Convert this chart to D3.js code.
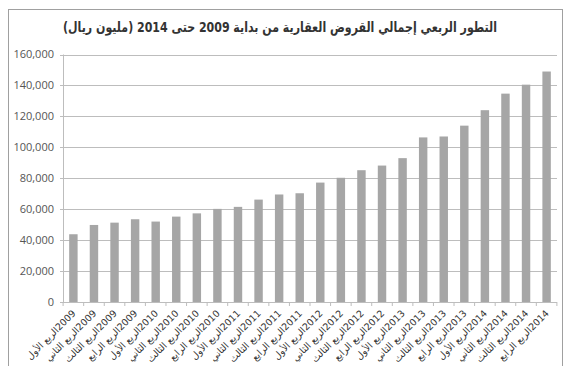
<!DOCTYPE html>
<html>
<head>
<meta charset="utf-8">
<script src="https://cdn.jsdelivr.net/npm/d3@7"></script>
<style>
  html, body { margin: 0; padding: 0; background: #fff; }
  svg { display: block; }
</style>
</head>
<body>
<div id="chart"></div>
<script>
// chart data (million riyals, quarterly)
const quarters = ['الربع الأول', 'الربع الثاني', 'الربع الثالث', 'الربع الرابع'];
const years = [2009, 2010, 2011, 2012, 2013, 2014];
const categories = [];
years.forEach(y => quarters.forEach(q => categories.push(q + ' ' + y)));
const loans = [
  43800, 49800, 51300, 53500,
  52000, 55200, 57300, 60200,
  61500, 66200, 69500, 70300,
  77200, 80300, 85200, 88200,
  93000, 106400, 107000, 114000,
  124000, 134700, 140500, 149000
];
const yTicks = [0, 20000, 40000, 60000, 80000, 100000, 120000, 140000, 160000];
const title = 'التطور الربعي إجمالي القروض العقارية من بداية 2009 حتى 2014 (مليون ريال)';

const width = 575, height = 366;
const margin = { top: 54.5, right: 18, bottom: 64, left: 63 };

const svg = d3.select('#chart').append('svg')
  .attr('width', width)
  .attr('height', height);

// outer chart border
svg.append('rect')
  .attr('x', 8.5).attr('y', 9.5)
  .attr('width', 554).attr('height', 400)
  .attr('fill', 'none')
  .attr('stroke', '#a0a0a0')
  .attr('stroke-width', 1);

svg.append('text')
  .attr('x', 280)
  .attr('y', 32)
  .attr('text-anchor', 'middle')
  .attr('textLength', 434)
  .attr('lengthAdjust', 'spacingAndGlyphs')
  .style('font-family', 'DejaVu Sans, sans-serif')
  .style('font-size', '14px')
  .style('font-weight', 'bold')
  .style('fill', '#333')
  .text(title);

const x = d3.scaleBand()
  .domain(categories)
  .range([margin.left, width - margin.right])
  .paddingInner(0.59)
  .paddingOuter(0.3);

const y = d3.scaleLinear()
  .domain([0, 160000])
  .range([height - margin.bottom, margin.top]);

// gridlines
svg.append('g')
  .selectAll('line')
  .data(yTicks)
  .join('line')
  .attr('x1', margin.left - 3)
  .attr('x2', width - margin.right)
  .attr('y1', d => Math.round(y(d)) + 0.5)
  .attr('y2', d => Math.round(y(d)) + 0.5)
  .attr('stroke', '#bdbdbd')
  .attr('stroke-width', 1.2);

// y axis labels
svg.append('g')
  .selectAll('text')
  .data(yTicks)
  .join('text')
  .attr('x', margin.left - 9)
  .attr('y', d => y(d))
  .attr('dy', '0.35em')
  .attr('text-anchor', 'end')
  .style('font-family', 'Open Sans, Liberation Sans, sans-serif')
  .style('font-size', '11px')
  .style('fill', '#555')
  .text(d => d3.format(',')(d));

// y axis line
svg.append('line')
  .attr('x1', margin.left + 0.5).attr('x2', margin.left + 0.5)
  .attr('y1', y(160000)).attr('y2', y(0))
  .attr('stroke', '#bdbdbd');

// bars
svg.append('g')
  .selectAll('rect')
  .data(loans)
  .join('rect')
  .attr('x', (d, i) => x(categories[i]))
  .attr('width', x.bandwidth())
  .attr('y', d => y(d))
  .attr('height', d => y(0) - y(d))
  .attr('fill', '#a6a6a6');

// x axis ticks at band boundaries
const step = x.step();
const x0 = x(categories[0]) - step * x.paddingInner() / 2;
const bounds = d3.range(categories.length + 1).map(i => x0 + i * step);
svg.append('g')
  .selectAll('line')
  .data(bounds)
  .join('line')
  .attr('x1', d => d).attr('x2', d => d)
  .attr('y1', y(0)).attr('y2', y(0) + 4)
  .attr('stroke', '#bdbdbd');

// x labels rotated; LRM keeps the year on the upper end like the original
svg.append('g')
  .selectAll('text')
  .data(categories)
  .join('text')
  .attr('transform', d => `translate(${x(d) + x.bandwidth() / 2 + 3},${y(0) + 12}) rotate(-45)`)
  .attr('text-anchor', 'end')
  .style('font-family', 'DejaVu Sans, sans-serif')
  .style('font-size', '9.5px')
  .style('fill', '#333')
  .text(d => d.replace(' ', '\u00A0').replace(/ (\d{4})$/, '\u200E$1').replace('\u00A0', ' '));
</script>
</body>
</html>
